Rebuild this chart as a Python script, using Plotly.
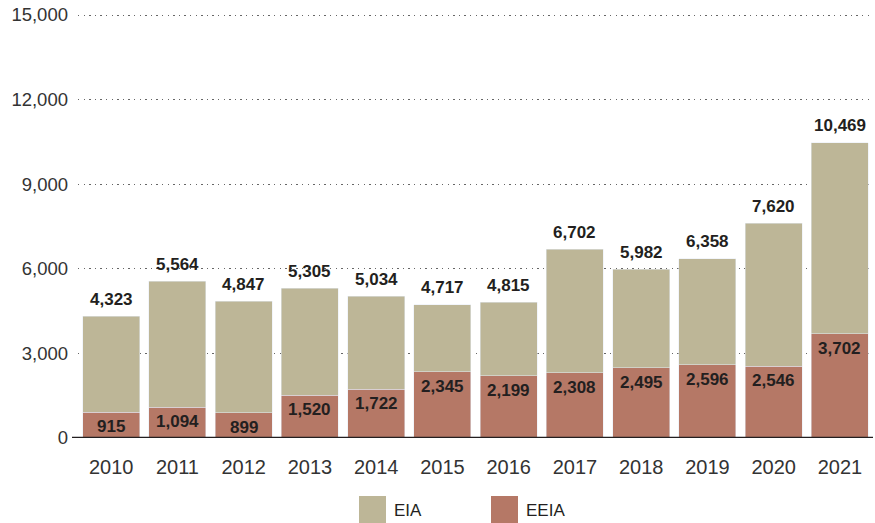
import plotly.graph_objects as go

years = ["2010", "2011", "2012", "2013", "2014", "2015", "2016",
         "2017", "2018", "2019", "2020", "2021"]
totals = [4323, 5564, 4847, 5305, 5034, 4717, 4815, 6702, 5982, 6358, 7620, 10469]
eeia = [915, 1094, 899, 1520, 1722, 2345, 2199, 2308, 2495, 2596, 2546, 3702]
eia = [t - e for t, e in zip(totals, eeia)]

y_ticks = [0, 3000, 6000, 9000, 12000, 15000]

EIA_COLOR = "#BDB697"
EEIA_COLOR = "#B57866"
TEXT_DARK = "#231f20"
FONT = "Liberation Sans, Arial, sans-serif"

# figure geometry in pixels
W, H = 875, 523
L, R, T, B = 78, 2, 12, 85
PW, PH = W - L - R, H - T - B
# a little headroom so the top gridline is drawn inside the plot area
Y_MAX = 15000 * PH / 423


def px_x(px):
    return (px - L) / PW


def px_y(py):
    return (H - B - py) / PH


fig = go.Figure()
fig.add_trace(go.Bar(x=years, y=eeia, name="EEIA", marker_color=EEIA_COLOR,
                     showlegend=False))
fig.add_trace(go.Bar(x=years, y=eia, name="EIA", marker_color=EIA_COLOR,
                     showlegend=False))

annotations = []
# value labels: EEIA inside the bottom segment, totals above each stack
for i, (e, t) in enumerate(zip(eeia, totals)):
    annotations.append(dict(
        x=i, y=e, xref="x", yref="y", text=f"{e:,}", showarrow=False,
        yanchor="middle", yshift=-14.5,
        font=dict(family=FONT, size=17, color=TEXT_DARK, weight="bold"),
    ))
    annotations.append(dict(
        x=i, y=t, xref="x", yref="y", text=f"{t:,}", showarrow=False,
        yanchor="middle", yshift=17,
        font=dict(family=FONT, size=17, color=TEXT_DARK, weight="bold"),
    ))

# legend entries with large swatches
legend_items = [("EIA", EIA_COLOR, 359), ("EEIA", EEIA_COLOR, 491)]
shapes = []
for label, color, x0 in legend_items:
    shapes.append(dict(type="rect", xref="paper", yref="paper",
                       x0=px_x(x0), x1=px_x(x0 + 27), y0=px_y(523), y1=px_y(496),
                       fillcolor=color, line=dict(width=0)))
    annotations.append(dict(
        x=px_x(x0 + 33), y=px_y(511), xref="paper", yref="paper",
        text=label, showarrow=False, xanchor="left", yanchor="middle",
        font=dict(family=FONT, size=17, color=TEXT_DARK),
    ))

# baseline
shapes.append(dict(type="line", xref="paper", yref="y", x0=px_x(72), x1=1,
                   y0=0, y1=0, line=dict(color="#231f20", width=2.5),
                   layer="above"))

fig.update_layout(
    barmode="stack",
    bargap=0.139,
    width=W, height=H,
    margin=dict(l=L, r=R, t=T, b=B),
    plot_bgcolor="white", paper_bgcolor="white",
    font=dict(family=FONT, size=17, color="#333333"),
    showlegend=False,
    xaxis=dict(
        type="category", range=[-0.5, 11.5], showgrid=False, ticks="",
        showline=False, tickfont=dict(size=20, color="#333333"),
        ticklabelstandoff=15, automargin=False,
    ),
    yaxis=dict(
        range=[0, Y_MAX], tickvals=y_ticks, tickformat=",",
        showgrid=True, gridcolor="#666666", griddash="1.3px,4.3px", gridwidth=1.3,
        zeroline=False, ticklabelstandoff=9, automargin=False,
        tickfont=dict(size=18.5, color="#333333"),
    ),
    annotations=annotations,
    shapes=shapes,
)

fig.write_html("out.html")
